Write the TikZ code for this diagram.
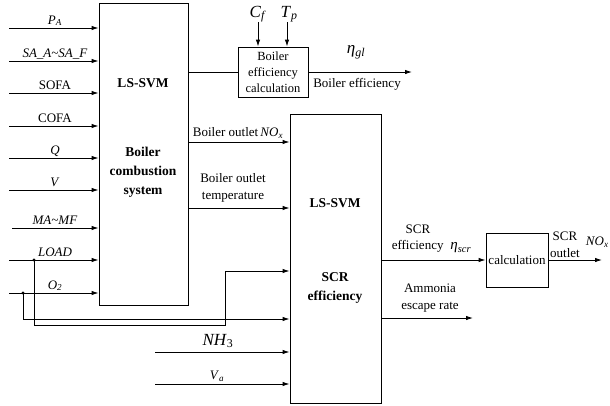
\documentclass[tikz,border=0pt]{standalone}
\usepackage{fontspec}
\setmainfont{Liberation Serif}
\usetikzlibrary{arrows.meta}
\newcommand{\isub}[2]{\textit{#1}\textsubscript{\textit{#2}}}

\begin{document}
\begin{tikzpicture}[x=1pt, y=-1pt, line width=0.9pt,
    arr/.style={-{Latex[length=7pt,width=4.5pt]}},
    blk/.style={draw, inner sep=0pt},
    lbl/.style={font=\fontsize{13}{17}\selectfont, align=center},
    big/.style={font=\fontsize{17}{18}\selectfont},
    bold/.style={font=\fontsize{13.5}{19}\selectfont\bfseries, align=center}]
  \useasboundingbox (0,0) rectangle (610,405);
  % blocks
  \node[blk, minimum width=89, minimum height=302] (boiler) at (143.5,154) {};
  \node[blk, minimum width=91, minimum height=289] (scr) at (335.5,258.5) {};
  \node[blk, minimum width=70, minimum height=50, align=center,
    font=\fontsize{12.5}{16}\selectfont] (calcA) at (273,72) {Boiler\\ efficiency\\ calculation};
  \node[blk, minimum width=62, minimum height=54, lbl] (calcB) at (517,260) {calculation};
  \node[bold] (boilerSvm) at (143,83) {LS-SVM};
  \node[bold] (boilerTxt) at (143,172) {Boiler\\ combustion\\ system};
  \node[bold] (scrSvm) at (335,203) {LS-SVM};
  \node[bold] (scrTxt) at (335,288) {SCR\\ efficiency};

  % boiler inputs
  \foreach \x/\y/\t/\n in {9/28/{\isub{P}{A}}/pa, 9/61/{\textit{SA\_A\textasciitilde SA\_F}}/sa,
      9/93/SOFA/sofa, 9/126/COFA/cofa, 9/158/{\textit{Q}}/q, 9/190/{\textit{V}}/v,
      12/228/{\textit{MA\textasciitilde MF}}/ma, 9/260/{\textit{LOAD}}/load, 9/293/{\isub{O}{2}}/otwo} {
    \coordinate (\n) at (\x,\y);
    \draw[arr] (\n) -- (\n -| boiler.west);
    \node[lbl, anchor=base] (\n-lbl) at (55,\y-4) {\t};
  }

  % load and O2 to SCR
  \coordinate (loadDot) at (34,260);
  \coordinate (otwoDot) at (23,293);
  \fill (loadDot) circle (1.7pt);
  \fill (otwoDot) circle (1.7pt);
  \draw[arr] (loadDot) |- (225,325) |- (scr.west |- 0,271);
  \draw[arr] (otwoDot) |- (scr.west |- 0,319);

  % SCR inputs
  \coordinate (nh) at (155,352);
  \coordinate (va) at (155,384);
  \draw[arr] (nh) -- (nh -| scr.west);
  \draw[arr] (va) -- (va -| scr.west);
  \node[big] (nh-lbl) at (218,341) {\textit{NH}\textsubscript{3}};
  \node[lbl] (va-lbl) at (217,376) {\isub{V}{a}};

  % boiler efficiency
  \draw (boiler.east |- calcA.west) -- (calcA.west);
  \coordinate (cf) at (258,22);
  \coordinate (tp) at (287,22);
  \draw[arr] (cf) -- (cf |- calcA.north);
  \draw[arr] (tp) -- (tp |- calcA.north);
  \node[big] (cf-lbl) at (258,14) {\isub{C}{f}};
  \node[big] (tp-lbl) at (289,14) {\isub{T}{p}};
  \coordinate (etaEnd) at (412,72);
  \draw[arr] (calcA.east) -- (etaEnd);
  \node[big] (eta-lbl) at (356,52) {\isub{η}{gl}};
  \node[lbl] (eff-lbl) at (357,84) {Boiler efficiency};

  % boiler outputs to SCR
  \coordinate (noxOut) at (boiler.east |- 0,142);
  \coordinate (tempOut) at (boiler.east |- 0,208);
  \draw[arr] (noxOut) -- (noxOut -| scr.west);
  \draw[arr] (tempOut) -- (tempOut -| scr.west);
  \node[lbl] (nox-lbl) at (238,133) {Boiler outlet\,\isub{NO}{x}};
  \node[lbl] (temp-lbl) at (233,188) {Boiler outlet\\ temperature};

  % SCR outputs
  \draw[arr] (scr.east |- calcB.west) -- (calcB.west);
  \node[lbl] (scrEff-lbl) at (418,229) {SCR};
  \node[lbl, anchor=west] (scrEta-lbl) at (388,247) {efficiency\; {\fontsize{15}{16}\selectfont\isub{η}{scr}}};
  \coordinate (outEnd) at (602,260);
  \draw[arr] (calcB.east) -- (outEnd);
  \node[lbl] (out-lbl) at (565,245) {SCR\\ outlet};
  \node[lbl, anchor=east, inner sep=1pt] (noxEnd-lbl) at (610,242) {\isub{NO}{x}};
  \coordinate (nhOut) at (scr.east |- 0,318);
  \coordinate (nhEnd) at (473,318);
  \draw[arr] (nhOut) -- (nhEnd);
  \node[lbl] (amm-lbl) at (430,298) {Ammonia\\ escape rate};
\end{tikzpicture}
\end{document}
